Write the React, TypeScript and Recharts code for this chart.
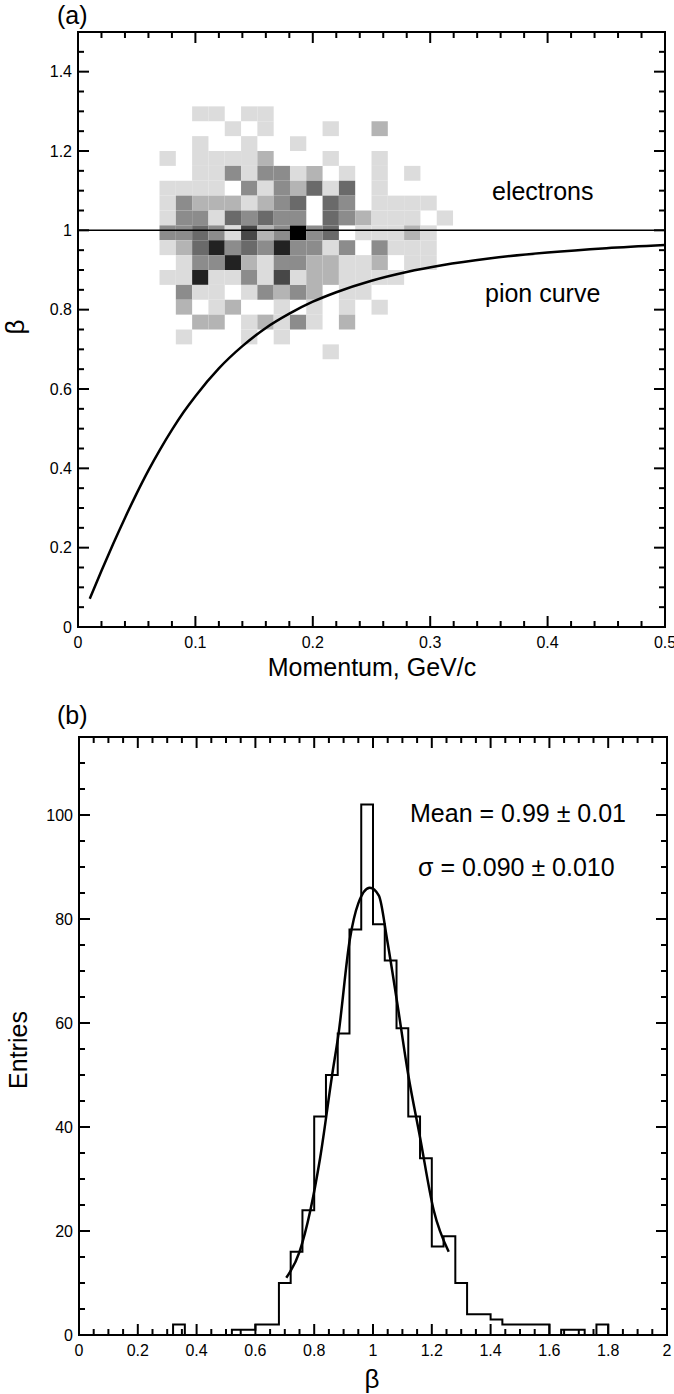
import React from 'react';
import { ComposedChart, XAxis, YAxis, Line, ReferenceArea, ReferenceLine } from 'recharts';

const FONT = '"Liberation Sans", Arial, Helvetica, sans-serif';

// ---------- (a) beta vs momentum ----------
// 2D histogram cells: momentum bin starts (GeV/c), beta bin starts (top row first)
const momentumBinStart = [
  0.06944, 0.08333, 0.09722, 0.11111, 0.125, 0.13889, 0.15278, 0.16667, 0.18056,
  0.19444, 0.20833, 0.22222, 0.23611, 0.25, 0.26389, 0.27778, 0.29167, 0.30556,
];
const momentumBinWidth = 0.01389;
const betaBinStart = [
  1.275, 1.2375, 1.2, 1.1625, 1.125, 1.0875, 1.05, 1.0125, 0.975,
  0.9375, 0.9, 0.8625, 0.825, 0.7875, 0.75, 0.7125, 0.675,
];
const betaBinHeight = 0.0375;
// grey level per cell, 0 = empty, 7 = black
const cellShade = [
  [0, 0, 1, 1, 0, 1, 1, 0, 0, 0, 0, 0, 0, 0, 0, 0, 0, 0],
  [0, 0, 0, 0, 1, 0, 1, 0, 0, 0, 1, 0, 0, 2, 0, 0, 0, 0],
  [0, 0, 1, 0, 0, 1, 0, 0, 1, 0, 0, 0, 0, 0, 0, 0, 0, 0],
  [1, 0, 1, 1, 1, 1, 2, 0, 0, 0, 1, 0, 0, 1, 0, 0, 0, 0],
  [0, 0, 1, 1, 3, 1, 3, 3, 1, 2, 0, 1, 0, 1, 0, 1, 0, 0],
  [1, 1, 1, 1, 0, 3, 1, 3, 2, 4, 1, 4, 0, 1, 0, 0, 0, 0],
  [1, 3, 2, 2, 2, 1, 2, 3, 4, 0, 4, 3, 0, 1, 1, 1, 1, 0],
  [1, 3, 3, 1, 4, 3, 4, 3, 3, 0, 4, 3, 2, 1, 1, 1, 0, 1],
  [3, 3, 4, 3, 1, 5, 2, 3, 7, 3, 4, 0, 1, 1, 1, 2, 1, 0],
  [1, 2, 4, 6, 3, 4, 3, 6, 3, 3, 1, 3, 0, 3, 1, 1, 1, 0],
  [0, 1, 3, 3, 6, 2, 1, 3, 3, 2, 2, 1, 1, 2, 0, 1, 1, 0],
  [1, 1, 6, 1, 1, 3, 1, 5, 1, 2, 2, 1, 1, 1, 1, 0, 0, 0],
  [0, 3, 1, 1, 0, 1, 3, 2, 3, 2, 0, 1, 1, 0, 0, 0, 0, 0],
  [0, 2, 0, 1, 2, 0, 0, 1, 0, 1, 0, 1, 0, 1, 0, 0, 0, 0],
  [0, 0, 2, 2, 0, 1, 2, 1, 3, 1, 0, 2, 0, 0, 0, 0, 0, 0],
  [0, 1, 0, 0, 0, 1, 0, 1, 0, 0, 0, 0, 0, 0, 0, 0, 0, 0],
  [0, 0, 0, 0, 0, 0, 0, 0, 0, 0, 1, 0, 0, 0, 0, 0, 0, 0],
];
const shadeColors = ['#ffffff', '#dcdcdc', '#b4b4b4', '#8c8c8c', '#6a6a6a', '#474747', '#222222', '#000000'];

// pion curve
const pionMomentum = [0.01, 0.02, 0.03, 0.04, 0.05, 0.06, 0.07, 0.08, 0.09, 0.1, 0.12, 0.14, 0.16, 0.18, 0.2, 0.22, 0.25, 0.28, 0.31, 0.35, 0.4, 0.45, 0.5];
const pionBeta = [0.071, 0.142, 0.21, 0.275, 0.337, 0.395, 0.448, 0.497, 0.542, 0.582, 0.652, 0.708, 0.754, 0.79, 0.82, 0.844, 0.873, 0.895, 0.912, 0.929, 0.944, 0.955, 0.963];

const momentumTicks = [0, 0.02, 0.04, 0.06, 0.08, 0.1, 0.12, 0.14, 0.16, 0.18, 0.2, 0.22, 0.24, 0.26, 0.28, 0.3, 0.32, 0.34, 0.36, 0.38, 0.4, 0.42, 0.44, 0.46, 0.48, 0.5];
const momentumLabels = [0, 0.1, 0.2, 0.3, 0.4, 0.5];
const betaTicks = [0, 0.05, 0.1, 0.15, 0.2, 0.25, 0.3, 0.35, 0.4, 0.45, 0.5, 0.55, 0.6, 0.65, 0.7, 0.75, 0.8, 0.85, 0.9, 0.95, 1, 1.05, 1.1, 1.15, 1.2, 1.25, 1.3, 1.35, 1.4, 1.45, 1.5];
const betaLabels = [0, 0.2, 0.4, 0.6, 0.8, 1, 1.2, 1.4];

// ---------- (b) beta distribution ----------
const histBinStart = [
  0, 0.04, 0.08, 0.12, 0.16, 0.2, 0.24, 0.28, 0.32, 0.36, 0.4, 0.44, 0.48, 0.52, 0.56, 0.6, 0.64, 0.68, 0.72, 0.76,
  0.8, 0.84, 0.88, 0.92, 0.96, 1.0, 1.04, 1.08, 1.12, 1.16, 1.2, 1.24, 1.28, 1.32, 1.36, 1.4, 1.44, 1.48, 1.52, 1.56,
  1.6, 1.64, 1.68, 1.72, 1.76, 1.8, 1.84, 1.88, 1.92, 1.96, 2.0,
];
const histEntries = [
  0, 0, 0, 0, 0, 0, 0, 0, 2, 0, 0, 0, 0, 1, 1, 2, 2, 10, 16, 24,
  42, 50, 58, 78, 102, 79, 72, 59, 42, 34, 17, 19, 10, 4, 4, 3, 2, 2, 2, 2,
  0, 1, 1, 0, 2, 0, 0, 0, 0, 0, 0,
];

// fitted gaussian
const fitBeta = [0.705, 0.75, 0.787, 0.82, 0.861, 0.883, 0.921, 0.95, 0.989, 1.02, 1.048, 1.082, 1.12, 1.16, 1.2065, 1.2575];
const fitEntries = [11, 16, 24, 34, 50, 58, 76, 83, 86, 84.5, 76, 64, 50, 38, 24, 16];

const betaHistTicks = [0, 0.05, 0.1, 0.15, 0.2, 0.25, 0.3, 0.35, 0.4, 0.45, 0.5, 0.55, 0.6, 0.65, 0.7, 0.75, 0.8, 0.85, 0.9, 0.95, 1, 1.05, 1.1, 1.15, 1.2, 1.25, 1.3, 1.35, 1.4, 1.45, 1.5, 1.55, 1.6, 1.65, 1.7, 1.75, 1.8, 1.85, 1.9, 1.95, 2];
const betaHistLabels = [0, 0.2, 0.4, 0.6, 0.8, 1, 1.2, 1.4, 1.6, 1.8, 2];
const entriesTicks = [0, 5, 10, 15, 20, 25, 30, 35, 40, 45, 50, 55, 60, 65, 70, 75, 80, 85, 90, 95, 100, 105, 110, 115];
const entriesLabels = [0, 20, 40, 60, 80, 100];

const labelStyle = { fill: '#000', fontSize: 16, fontFamily: FONT };
const isIn = (list: number[], v: number) => list.some((m) => Math.abs(m - v) < 1e-6);

// inward tick marks on both ends of a reference line spanning the plot
const vTicks = (len: number) => (p: any) => {
  const top = Math.min(p.y1, p.y2);
  const bot = Math.max(p.y1, p.y2);
  return (
    <g stroke="#000" strokeWidth={2}>
      <line x1={p.x1} x2={p.x1} y1={bot} y2={bot - len} />
      <line x1={p.x1} x2={p.x1} y1={top} y2={top + len} />
    </g>
  );
};
const hTicks = (len: number) => (p: any) => {
  const left = Math.min(p.x1, p.x2);
  const right = Math.max(p.x1, p.x2);
  return (
    <g stroke="#000" strokeWidth={2}>
      <line x1={left} x2={left + len} y1={p.y1} y2={p.y1} />
      <line x1={right} x2={right - len} y1={p.y1} y2={p.y1} />
    </g>
  );
};

// closed frame with inward ticks on all four sides
function frame(xDomain: number[], yDomain: number[], xAll: number[], xMajor: number[], yAll: number[], yMajor: number[]) {
  return [
    <ReferenceArea key="frame" x1={xDomain[0]} x2={xDomain[1]} y1={yDomain[0]} y2={yDomain[1]} fill="none" stroke="#000" strokeWidth={2} />,
    ...xAll.map((v) => <ReferenceLine key={`xt-${v}`} x={v} stroke="#000" shape={vTicks(isIn(xMajor, v) ? 11 : 6)} />),
    ...yAll.map((v) => <ReferenceLine key={`yt-${v}`} y={v} stroke="#000" shape={hTicks(isIn(yMajor, v) ? 11 : 6)} />),
  ];
}

const PanelA = () => {
  const pionData = pionMomentum.map((p, i) => ({ x: p, y: pionBeta[i] }));
  return (
    <ComposedChart width={674} height={700} margin={{ top: 32, right: 9, bottom: 0, left: 0 }}>
      <XAxis
        dataKey="x"
        type="number"
        domain={[0, 0.5]}
        ticks={momentumLabels}
        interval={0}
        height={73}
        tickSize={-11}
        tickMargin={21}
        axisLine={false}
        tickLine={false}
        allowDataOverflow
        tick={labelStyle}
        tickFormatter={(v: number) => String(v)}
      />
      <YAxis
        type="number"
        domain={[0, 1.5]}
        ticks={betaLabels}
        interval={0}
        width={78}
        tickSize={-11}
        tickMargin={17}
        axisLine={false}
        tickLine={false}
        allowDataOverflow
        tick={labelStyle}
        tickFormatter={(v: number) => String(v)}
      />
      {cellShade.flatMap((row, r) =>
        row.map((s, c) =>
          s === 0 ? null : (
            <ReferenceArea
              key={`c-${r}-${c}`}
              x1={momentumBinStart[c]}
              x2={momentumBinStart[c] + momentumBinWidth}
              y1={betaBinStart[r]}
              y2={betaBinStart[r] + betaBinHeight}
              fill={shadeColors[s]}
              fillOpacity={1}
              stroke="none"
            />
          )
        )
      )}
      <ReferenceLine y={1} stroke="#000" strokeWidth={1.5} />
      {frame([0, 0.5], [0, 1.5], momentumTicks, momentumLabels, betaTicks, betaLabels)}
      <Line
        data={pionData}
        dataKey="y"
        type="monotone"
        stroke="#000"
        strokeWidth={2.5}
        dot={false}
        activeDot={false}
        isAnimationActive={false}
      />
    </ComposedChart>
  );
};

const PanelB = () => {
  const histData = histBinStart.map((b, i) => ({ x: b, y: histEntries[i] }));
  const fitData = fitBeta.map((b, i) => ({ x: b, y: fitEntries[i] }));
  return (
    <ComposedChart width={674} height={694} margin={{ top: 37, right: 7, bottom: 0, left: 0 }}>
      <XAxis
        dataKey="x"
        type="number"
        domain={[0, 2]}
        ticks={betaHistLabels}
        interval={0}
        height={59}
        tickSize={-11}
        tickMargin={21}
        axisLine={false}
        tickLine={false}
        allowDataOverflow
        tick={labelStyle}
        tickFormatter={(v: number) => String(v)}
      />
      <YAxis
        type="number"
        domain={[0, 115]}
        ticks={entriesLabels}
        interval={0}
        width={79}
        tickSize={-11}
        tickMargin={17}
        axisLine={false}
        tickLine={false}
        allowDataOverflow
        tick={labelStyle}
        tickFormatter={(v: number) => String(v)}
      />
      {frame([0, 2], [0, 115], betaHistTicks, betaHistLabels, entriesTicks, entriesLabels)}
      <Line
        data={histData}
        dataKey="y"
        type="stepAfter"
        stroke="#000"
        strokeWidth={2}
        dot={false}
        activeDot={false}
        isAnimationActive={false}
      />
      <Line
        data={fitData}
        dataKey="y"
        type="monotone"
        stroke="#000"
        strokeWidth={2.5}
        dot={false}
        activeDot={false}
        isAnimationActive={false}
      />
    </ComposedChart>
  );
};

const T = (p: { x: number; y: number; size: number; anchor?: string; rotate?: boolean; children: React.ReactNode }) => (
  <text
    x={p.x}
    y={p.y}
    fontSize={p.size}
    fontFamily={FONT}
    textAnchor={(p.anchor as any) || 'start'}
    dominantBaseline="middle"
    transform={p.rotate ? `rotate(-90 ${p.x} ${p.y})` : undefined}
    fill="#000"
  >
    {p.children}
  </text>
);

export default function App() {
  return (
    <div style={{ position: 'relative', width: 674, height: 1394, background: '#fff' }}>
      <style>{'body{margin:0}'}</style>
      <div style={{ position: 'absolute', left: 0, top: 0 }}>
        <PanelA />
      </div>
      <div style={{ position: 'absolute', left: 0, top: 700 }}>
        <PanelB />
      </div>
      <svg width={674} height={1394} style={{ position: 'absolute', left: 0, top: 0, pointerEvents: 'none' }}>
        <T x={57} y={17} size={25}>(a)</T>
        <T x={17} y={327} size={26} anchor="middle" rotate>β</T>
        <T x={372} y={669} size={25} anchor="middle">Momentum, GeV/c</T>
        <T x={492} y={193} size={25}>electrons</T>
        <T x={485} y={295} size={25}>pion curve</T>
        <T x={57} y={717} size={25}>(b)</T>
        <T x={410} y={815} size={25}>Mean = 0.99 ± 0.01</T>
        <T x={418} y={869} size={25}>σ = 0.090 ± 0.010</T>
        <T x={20} y={1050} size={25} anchor="middle" rotate>Entries</T>
        <T x={372} y={1381} size={26} anchor="middle">β</T>
      </svg>
    </div>
  );
}
